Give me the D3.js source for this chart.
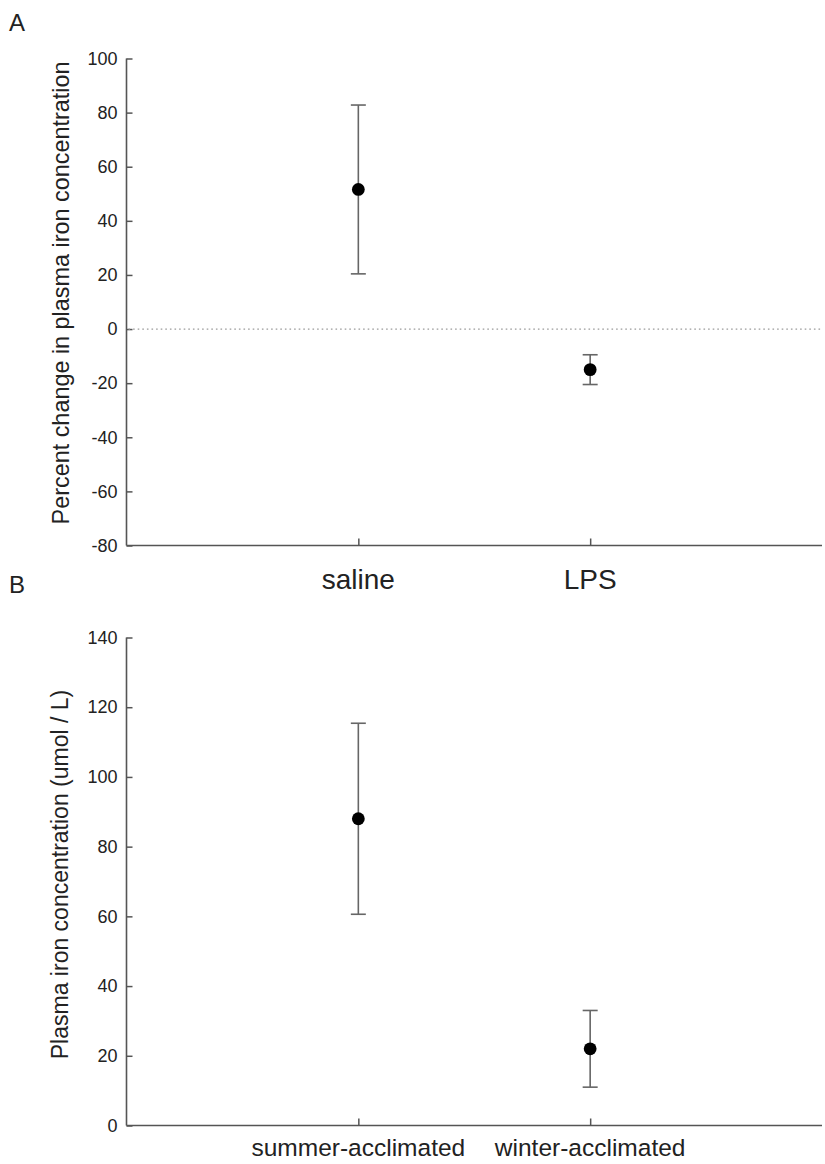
<!DOCTYPE html>
<html>
<head>
<meta charset="utf-8">
<script src="https://cdn.jsdelivr.net/npm/d3@7"></script>
<style>
  html, body { margin: 0; padding: 0; background: #fff; }
  svg { display: block; font-family: "Liberation Sans", Arial, Helvetica, sans-serif; }
</style>
</head>
<body>
<svg id="fig" width="825" height="1164"></svg>
<script>
// Panel A: percent change in plasma iron after injection
const groupsA = ["saline", "LPS"];
const meansA = [51.6, -15.0];
const errA = [31.2, 5.5];
const ticksA = [-80, -60, -40, -20, 0, 20, 40, 60, 80, 100];

// Panel B: plasma iron by acclimation season
const groupsB = ["summer-acclimated", "winter-acclimated"];
const meansB = [88.0, 22.0];
const errB = [27.4, 11.0];
const ticksB = [0, 20, 40, 60, 80, 100, 120, 140];

const svg = d3.select("#fig");
const axisColor = "#555";
const barColor = "#666";
const textColor = "#222";
const tickFmt = d => String(d); // plain hyphen-minus for negatives

function panel(cfg) {
  const g = svg.append("g");
  const x = d3.scaleLinear().domain([0, 3]).range([cfg.left, cfg.right]);
  const y = d3.scaleLinear().domain(cfg.domain).range([cfg.bottom, cfg.top]);

  // y axis with inward ticks
  const yAxis = g.append("g")
    .attr("transform", `translate(${cfg.left},0)`)
    .call(d3.axisRight(y).tickValues(cfg.ticks).tickSize(6).tickFormat(tickFmt));
  yAxis.select(".domain").remove();
  yAxis.selectAll(".tick line").attr("stroke", axisColor).attr("stroke-width", 1.5);
  yAxis.selectAll(".tick text")
    .attr("x", -9).attr("text-anchor", "end")
    .attr("fill", textColor).style("font-size", "18px")
    .attr("font-family", null);
  g.append("line")
    .attr("x1", cfg.left).attr("x2", cfg.left)
    .attr("y1", y(cfg.domain[1])).attr("y2", y(cfg.domain[0]))
    .attr("stroke", axisColor).attr("stroke-width", 1.6);

  // x axis with inward ticks at category positions
  const xAxis = g.append("g")
    .attr("transform", `translate(0,${cfg.bottom})`)
    .call(d3.axisTop(x).tickValues([1, 2]).tickSize(7).tickFormat(""));
  xAxis.select(".domain").remove();
  xAxis.selectAll(".tick line").attr("stroke", axisColor).attr("stroke-width", 1.5);
  g.append("line")
    .attr("x1", cfg.left).attr("x2", cfg.right)
    .attr("y1", cfg.bottom).attr("y2", cfg.bottom)
    .attr("stroke", axisColor).attr("stroke-width", 1.6);

  // category labels
  g.selectAll("text.cat").data(cfg.groups).enter().append("text")
    .attr("class", "cat")
    .attr("x", (d, i) => x(i + 1))
    .attr("y", cfg.bottom + cfg.labelOffset)
    .attr("text-anchor", "middle")
    .attr("fill", textColor)
    .style("font-size", cfg.labelSize + "px")
    .text(d => d);

  // optional zero reference line
  if (cfg.zeroLine) {
    g.append("line")
      .attr("x1", cfg.left + 2).attr("x2", cfg.right)
      .attr("y1", y(0)).attr("y2", y(0))
      .attr("stroke", "#9a9a9a").attr("stroke-width", 1.3)
      .attr("stroke-dasharray", "1.6,3");
  }

  // error bars
  const capHalf = 7.5;
  cfg.means.forEach((m, i) => {
    const cx = x(i + 1);
    const lo = y(m - cfg.err[i]), hi = y(m + cfg.err[i]);
    g.append("line").attr("x1", cx).attr("x2", cx).attr("y1", lo).attr("y2", hi)
      .attr("stroke", barColor).attr("stroke-width", 1.6);
    [lo, hi].forEach(v => g.append("line")
      .attr("x1", cx - capHalf).attr("x2", cx + capHalf).attr("y1", v).attr("y2", v)
      .attr("stroke", barColor).attr("stroke-width", 1.6));
  });

  // mean points
  g.selectAll("circle").data(cfg.means).enter().append("circle")
    .attr("cx", (d, i) => x(i + 1))
    .attr("cy", d => y(d))
    .attr("r", 6.4)
    .attr("fill", "#000");

  // y-axis title
  g.append("text")
    .attr("transform", `translate(${cfg.titleX},${(y(cfg.domain[0]) + y(cfg.domain[1])) / 2 + cfg.titleShift}) rotate(-90)`)
    .attr("text-anchor", "middle")
    .attr("fill", textColor)
    .style("font-size", cfg.titleSize + "px")
    .text(cfg.title);

  // panel letter
  svg.append("text")
    .attr("x", 9).attr("y", cfg.letterY)
    .attr("fill", textColor)
    .style("font-size", "24px")
    .text(cfg.letter);
}

panel({
  letter: "A", letterY: 31,
  groups: groupsA, means: meansA, err: errA, ticks: ticksA,
  domain: [-80, 100], top: 58.5, bottom: 545.5, left: 126.5, right: 822,
  labelOffset: 43, labelSize: 28, zeroLine: true,
  title: "Percent change in plasma iron concentration", titleX: 69, titleShift: -9, titleSize: 23.4
});

panel({
  letter: "B", letterY: 593,
  groups: groupsB, means: meansB, err: errB, ticks: ticksB,
  domain: [0, 140], top: 637.5, bottom: 1125.5, left: 126.5, right: 822,
  labelOffset: 30, labelSize: 24.5, zeroLine: false,
  title: "Plasma iron concentration (umol / L)", titleX: 68, titleShift: -7, titleSize: 23
});
</script>
</body>
</html>
